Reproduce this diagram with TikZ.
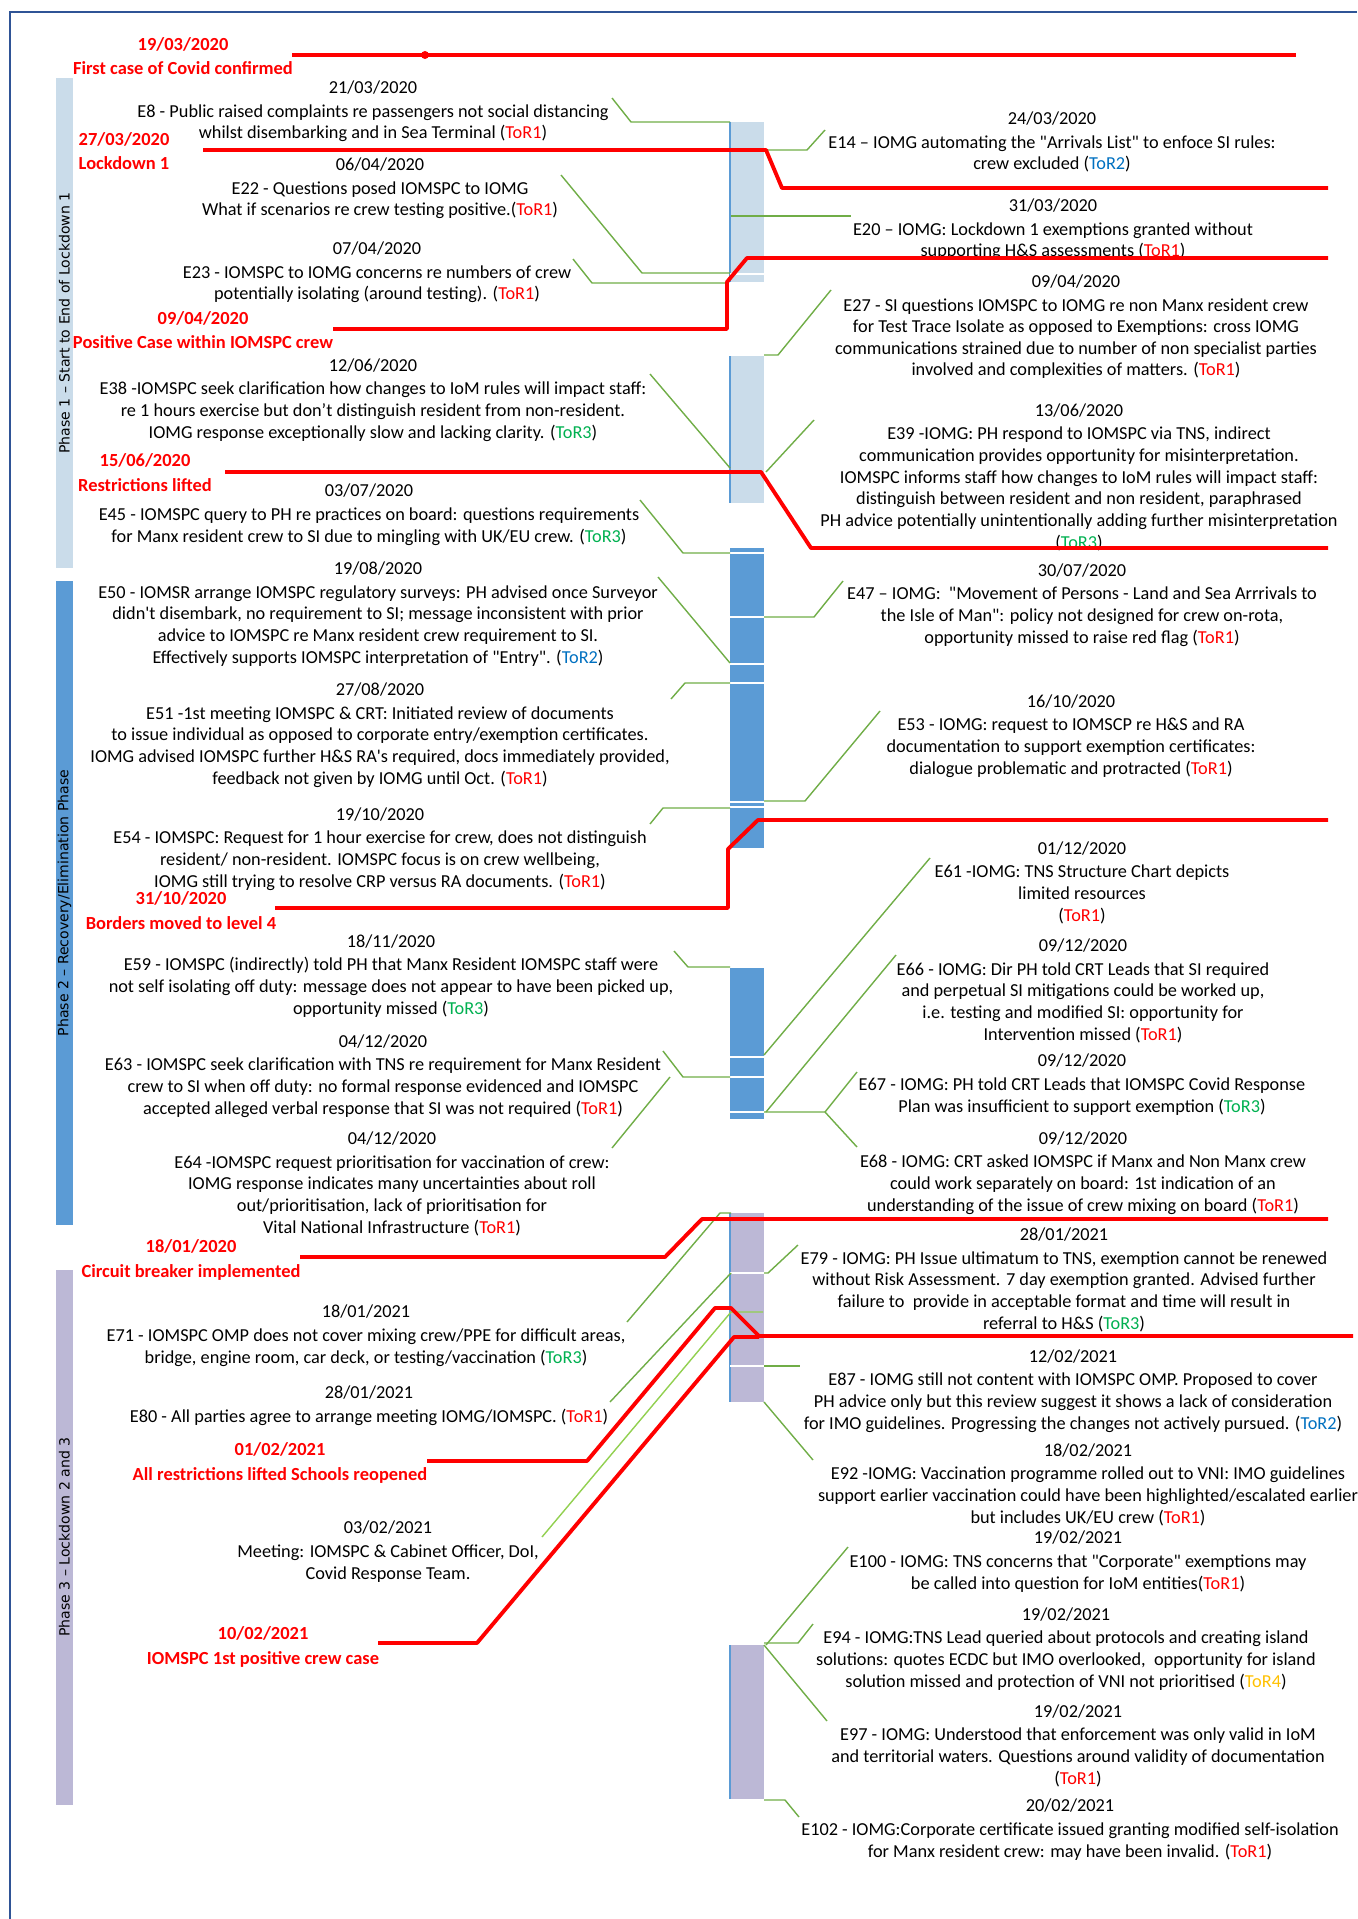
\documentclass[tikz,border=0pt]{standalone}
\usepackage{fontspec}
\setmainfont{Carlito}
\newfontfamily\phasefont{DejaVu Sans}
\usetikzlibrary{calc}

\definecolor{tlred}{HTML}{FF0000}
\definecolor{torblue}{HTML}{0070C0}
\definecolor{torgreen}{HTML}{00B050}
\definecolor{toryellow}{HTML}{FFC000}
\definecolor{lnkgreen}{HTML}{70AD47}
\definecolor{lnklight}{HTML}{92D050}
\definecolor{barblue}{HTML}{5B9BD5}
\definecolor{barlight}{HTML}{CADCEA}
\definecolor{barlav}{HTML}{BCB8D6}
\definecolor{framebl}{HTML}{2F5496}

\newcommand{\tora}{(\textcolor{tlred}{ToR1})}
\newcommand{\torb}{(\textcolor{torblue}{ToR2})}
\newcommand{\torc}{(\textcolor{torgreen}{ToR3})}
\newcommand{\tord}{(\textcolor{toryellow}{ToR4})}
\newcommand{\dq}{\textquotedbl}
\newcommand{\sq}{\textquotesingle}

\begin{document}
\begin{tikzpicture}[x=0.02cm, y=-0.02cm,
  evt/.style={align=center, anchor=base, inner sep=0pt, font=\fontsize{10.4}{12.3}\selectfont},
  redlbl/.style={align=center, anchor=base, inner sep=0pt, text=tlred, font=\fontsize{10.5}{14.2}\selectfont\bfseries},
  phaselbl/.style={rotate=90, inner sep=0pt, font=\fontsize{8}{9}\selectfont\phasefont},
  redline/.style={draw=tlred, line width=2.2pt, line join=round},
  conn/.style={draw=lnkgreen, line width=0.8pt},
  connlight/.style={draw=lnklight, line width=0.8pt},
  divider/.style={draw=white, line width=0.8pt}]
\useasboundingbox (0,0) rectangle (1357,1919);

% frame
\draw[framebl, line width=1.2pt] (10,1919) -- (10,12) -- (1357,12);

% phases
\fill[barlight] (56,78) rectangle (73,568);
\fill[barblue] (56,581) rectangle (73,1225);
\fill[barlav] (56,1270) rectangle (73,1805);
\node[phaselbl] (ph1) at (64.5,323) {Phase 1 – Start to End of Lockdown 1};
\node[phaselbl] (ph2) at (64.5,903) {Phase 2 – Recovery/Elimination Phase};
\node[phaselbl] (ph3) at (64.5,1537) {Phase 3 – Lockdown 2 and 3};

% events, left (anchored on last line)
\node[evt] (e8) at (373,139) {21/03/2020\\[1.2pt] E8 - Public raised complaints re passengers not social distancing\\ whilst disembarking and in Sea Terminal \tora};
\node[evt] (e22) at (380,216) {06/04/2020\\[1.2pt] E22 - Questions posed IOMSPC to IOMG\\ What if scenarios re crew testing positive.\tora};
\node[evt] (e23) at (377,300) {07/04/2020\\[1.2pt] E23 - IOMSPC to IOMG concerns re numbers of crew\\ potentially isolating (around testing). \tora};
\node[evt] (e38) at (373,438) {12/06/2020\\[1.2pt] E38 -IOMSPC seek clarification how changes to IoM rules will impact staff:\\ re 1 hours exercise but don't distinguish resident from non-resident.\\ IOMG response exceptionally slow and lacking clarity. \torc};
\node[evt] (e45) at (369,542) {03/07/2020\\[1.2pt] E45 - IOMSPC query to PH re practices on board: questions requirements\\ for Manx resident crew to SI due to mingling with UK/EU crew. \torc};
\node[evt] (e50) at (378,663) {19/08/2020\\[1.2pt] E50 - IOMSR arrange IOMSPC regulatory surveys: PH advised once Surveyor\\ didn\sq t disembark, no requirement to SI; message inconsistent with prior\\ advice to IOMSPC re Manx resident crew requirement to SI.\\ Effectively supports IOMSPC interpretation of \dq Entry\dq . \torb};
\node[evt] (e51) at (380,784) {27/08/2020\\[1.2pt] E51 -1st meeting IOMSPC \& CRT: Initiated review of documents\\ to issue individual as opposed to corporate entry/exemption certificates.\\ IOMG advised IOMSPC further H\&S RA\sq s required, docs immediately provided,\\ feedback not given by IOMG until Oct. \tora};
\node[evt] (e54) at (380,887) {19/10/2020\\[1.2pt] E54 - IOMSPC: Request for 1 hour exercise for crew, does not distinguish\\ resident/ non-resident. IOMSPC focus is on crew wellbeing,\\ IOMG still trying to resolve CRP versus RA documents. \tora};
\node[evt] (e59) at (391,1014) {18/11/2020\\[1.2pt] E59 - IOMSPC (indirectly) told PH that Manx Resident IOMSPC staff were\\ not self isolating off duty: message does not appear to have been picked up,\\ opportunity missed \torc};
\node[evt] (e63) at (383,1114) {04/12/2020\\[1.2pt] E63 - IOMSPC seek clarification with TNS re requirement for Manx Resident\\ crew to SI when off duty: no formal response evidenced and IOMSPC\\ accepted alleged verbal response that SI was not required \tora};
\node[evt] (e64) at (392,1233) {04/12/2020\\[1.2pt] E64 -IOMSPC request prioritisation for vaccination of crew:\\ IOMG response indicates many uncertainties about roll\\ out/prioritisation, lack of prioritisation for\\ Vital National Infrastructure \tora};
\node[evt] (e71) at (366,1363) {18/01/2021\\[1.2pt] E71 - IOMSPC OMP does not cover mixing crew/PPE for difficult areas,\\ bridge, engine room, car deck, or testing/vaccination \torc};
\node[evt] (e80) at (369,1422) {28/01/2021\\[1.2pt] E80 - All parties agree to arrange meeting IOMG/IOMSPC. \tora};
\node[evt] (meet) at (388,1579) {03/02/2021\\[1.2pt] Meeting: IOMSPC \& Cabinet Officer, DoI,\\ Covid Response Team.};

% events, right
\node[evt] (e14) at (1052,170) {24/03/2020\\[1.2pt] E14 – IOMG automating the \dq Arrivals List\dq\ to enfoce SI rules:\\ crew excluded \torb};
\node[evt] (e20) at (1053,257) {31/03/2020\\[1.2pt] E20 – IOMG: Lockdown 1 exemptions granted without\\ supporting H\&S assessments \tora};
\node[evt] (e27) at (1076,376) {09/04/2020\\[1.2pt] E27 - SI questions IOMSPC to IOMG re non Manx resident crew\\ for Test Trace Isolate as opposed to Exemptions: cross IOMG\\ communications strained due to number of non specialist parties\\ involved and complexities of matters. \tora};
\node[evt] (e39) at (1079,548) {13/06/2020\\[1.2pt] E39 -IOMG: PH respond to IOMSPC via TNS, indirect\\ communication provides opportunity for misinterpretation.\\ IOMSPC informs staff how changes to IoM rules will impact staff:\\ distinguish between resident and non resident, paraphrased\\ PH advice potentially unintentionally adding further misinterpretation\\ \torc};
\node[evt] (e47) at (1082,643) {30/07/2020\\[1.2pt] E47 – IOMG:\ \ \dq Movement of Persons - Land and Sea Arrrivals to\\ the Isle of Man\dq : policy not designed for crew on-rota,\\ opportunity missed to raise red flag \tora};
\node[evt] (e53) at (1071,774) {16/10/2020\\[1.2pt] E53 - IOMG: request to IOMSCP re H\&S and RA\\ documentation to support exemption certificates:\\ dialogue problematic and protracted \tora};
\node[evt] (e61) at (1082,921) {01/12/2020\\[1.2pt] E61 -IOMG: TNS Structure Chart depicts\\ limited resources\\ \tora};
\node[evt] (e66) at (1083,1040) {09/12/2020\\[1.2pt] E66 - IOMG: Dir PH told CRT Leads that SI required\\ and perpetual SI mitigations could be worked up,\\ i.e. testing and modified SI: opportunity for\\ Intervention missed \tora};
\node[evt] (e67) at (1082,1112) {09/12/2020\\[1.2pt] E67 - IOMG: PH told CRT Leads that IOMSPC Covid Response\\ Plan was insufficient to support exemption \torc};
\node[evt] (e68) at (1083,1211) {09/12/2020\\[1.2pt] E68 - IOMG: CRT asked IOMSPC if Manx and Non Manx crew\\ could work separately on board: 1st indication of an\\ understanding of the issue of crew mixing on board \tora};
\node[evt] (e79) at (1064,1329) {28/01/2021\\[1.2pt] E79 - IOMG: PH Issue ultimatum to TNS, exemption cannot be renewed\\ without Risk Assessment. 7 day exemption granted. Advised further\\ failure to\ \ provide in acceptable format and time will result in\\ referral to H\&S \torc};
\node[evt] (e87) at (1073,1429) {12/02/2021\\[1.2pt] E87 - IOMG still not content with IOMSPC OMP. Proposed to cover\\ PH advice only but this review suggest it shows a lack of consideration\\ for IMO guidelines. Progressing the changes not actively pursued. \torb};
\node[evt] (e92) at (1088,1523) {18/02/2021\\[1.2pt] E92 -IOMG: Vaccination programme rolled out to VNI: IMO guidelines\\ support earlier vaccination could have been highlighted/escalated earlier\\ but includes UK/EU crew \tora};
\node[evt] (e100) at (1078,1589) {19/02/2021\\[1.2pt] E100 - IOMG: TNS concerns that \dq Corporate\dq\ exemptions may\\ be called into question for IoM entities\tora};
\node[evt] (e94) at (1066,1687) {19/02/2021\\[1.2pt] E94 - IOMG:TNS Lead queried about protocols and creating island\\ solutions: quotes ECDC but IMO overlooked,\ \ opportunity for island\\ solution missed and protection of VNI not prioritised \tord};
\node[evt] (e97) at (1078,1784) {19/02/2021\\[1.2pt] E97 - IOMG: Understood that enforcement was only valid in IoM\\ and territorial waters. Questions around validity of documentation\\ \tora};
\node[evt] (e102) at (1070,1857) {20/02/2021\\[1.2pt] E102 - IOMG:Corporate certificate issued granting modified self-isolation\\ for Manx resident crew: may have been invalid. \tora};

% milestones
\node[redlbl] (covid) at (183,75) {19/03/2020\\ First case of Covid confirmed};
\node[redlbl] (lock1) at (124,170) {27/03/2020\\ Lockdown 1};
\node[redlbl] (poscase) at (203,349) {09/04/2020\\ Positive Case within IOMSPC crew};
\node[redlbl] (lifted) at (145,491) {15/06/2020\\ Restrictions lifted};
\node[redlbl] (borders) at (181,929) {31/10/2020\\ Borders moved to level 4};
\node[redlbl] (breaker) at (191,1277) {18/01/2020\\ Circuit breaker implemented};
\node[redlbl] (reopen) at (280,1480) {01/02/2021\\ All restrictions lifted Schools reopened};
\node[redlbl] (crewcase) at (263,1664) {10/02/2021\\ IOMSPC 1st positive crew case};

% timeline bars
\fill[barlight] (730,122) rectangle (764,282);
\fill[barlight] (730,356) rectangle (764,503);
\fill[barblue] (730,548) rectangle (764,848);
\fill[barblue] (730,968) rectangle (764,1119);
\fill[barlav] (730,1213) rectangle (764,1402);
\fill[barlav] (730,1645) rectangle (764,1799);
\draw[barblue, line width=0.8pt] (730,122) -- (730,282) (730,356) -- (730,503)
  (730,1213) -- (730,1402) (730,1645) -- (730,1799);
\foreach \yy in {274,553,617,664,683,802,807,1057,1077,1112,1273,1366}
  \draw[divider] (730,\yy) -- (764,\yy);

% links
\draw[conn] (612,98) -- (631,122) -- (730,122);
\draw[conn] (764,150) -- (807,150) -- (825,130);
\draw[conn] (731,216) -- (851,216);
\draw[conn] (561,175) -- (642,273) -- (730,273);
\draw[conn] (573,259) -- (592,283) -- (728,283);
\draw[conn] (831,290) -- (778,355) -- (764,355);
\draw[conn] (650,374) -- (730,468);
\draw[conn] (814,420) -- (766,472);
\draw[conn] (640,500) -- (683,553) -- (730,553);
\draw[conn] (843,581) -- (814,617) -- (764,617);
\draw[conn] (658,577) -- (730,663);
\draw[conn] (671,699) -- (685,683) -- (730,683);
\draw[conn] (880,711) -- (805,801) -- (764,801);
\draw[conn] (650,824) -- (663,808) -- (730,808);
\draw[conn] (930,858) -- (764,1055);
\draw[conn] (674,951) -- (688,967) -- (730,967);
\draw[conn] (896,955) -- (766,1112);
\draw[conn] (663,1051) -- (683,1077) -- (730,1077);
\draw[conn] (612,1148) -- (670,1077);
\draw[conn] (857,1072) -- (825,1112) -- (764,1112);
\draw[conn] (857,1147) -- (825,1112);
\draw[conn] (627,1322) -- (720,1213) -- (731,1213);
\draw[conn] (798,1245) -- (768,1273) -- (764,1273);
\draw[conn] (610,1402) -- (731,1273);
\draw[connlight] (542,1537) -- (731,1312) -- (763,1312);
\draw[conn] (764,1366) -- (800,1366);
\draw[conn] (764,1402) -- (813,1460);
\draw[conn] (848,1547) -- (766,1645);
\draw[conn] (813,1624) -- (798,1643) -- (764,1643);
\draw[conn] (764,1645) -- (827,1721);
\draw[conn] (764,1800) -- (785,1800) -- (799,1817);

% milestone lines
\draw[redline] (292,55) -- (1296,55);
\fill[tlred] (425,55) circle (4);
\draw[redline] (203,150) -- (766,150) -- (782,188) -- (1328,188);
\draw[redline] (333,329) -- (727,329) -- (727,282) -- (747,258) -- (1328,258);
\draw[redline] (225,472) -- (761,472) -- (811,548) -- (1328,548);
\draw[redline] (275,908) -- (728,908) -- (728,849) -- (758,820) -- (1328,820);
\draw[redline] (300,1257) -- (665,1257) -- (702,1219) -- (1328,1219);
\draw[redline] (427,1461) -- (587,1461) -- (715,1308) -- (731,1308) -- (759,1336) -- (1353,1336);
\draw[redline] (378,1643) -- (477,1643) -- (734,1337) -- (759,1337);
\end{tikzpicture}
\end{document}
